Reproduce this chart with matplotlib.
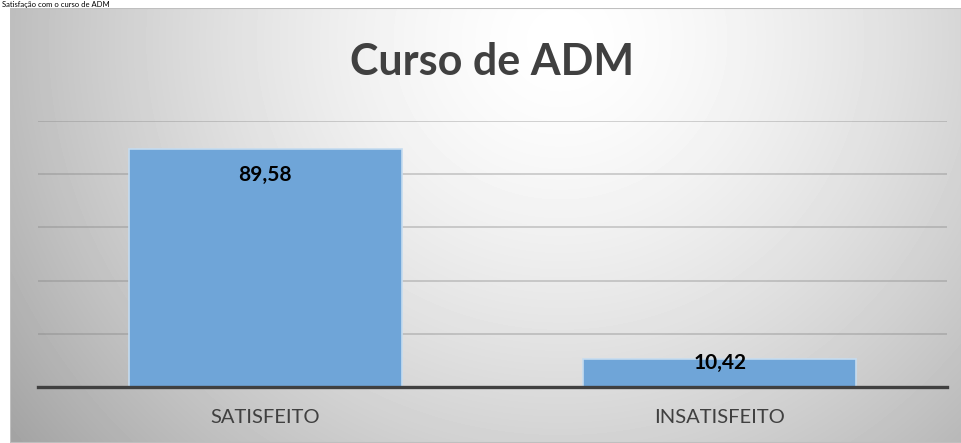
import numpy as np
import matplotlib.pyplot as plt
from matplotlib.patches import Rectangle

categorias = ['SATISFEITO', 'INSATISFEITO']
valores = [89.58, 10.42]
rotulos = ['89,58', '10,42']
titulo = 'Curso de ADM'
texto_topo = 'Satisfação com o curso de ADM'

W, H = 962, 443
fig = plt.figure(figsize=(W / 100, H / 100), dpi=100)
fig.patch.set_facecolor('white')

# texto de cima (no original aparece cortado pela moldura)
fig.text(2 / W, 1 - 0.5 / H, texto_topo, fontsize=5.5,
         family='Lato', color='black', ha='left', va='top')

# fundo com gradiente radial (area do grafico)
x0, y0 = 10, 8
bg = fig.add_axes([x0 / W, 0, (W - x0) / W, (H - y0) / H])
xx, yy = np.meshgrid(np.arange(x0, W), np.arange(y0, H))
d = np.hypot(xx - 560, (yy - 40) * 1.05)
g = 1 - 0.25 * np.clip(d / 540, 0, 1.3) ** 1.5
bg.imshow(g, cmap='gray', vmin=0, vmax=1, aspect='auto',
          extent=[0, 1, 0, 1], interpolation='bilinear')
bg.add_patch(Rectangle((0, 0), 1, 1, transform=bg.transAxes, fill=False,
                       edgecolor='#bfbfbf', lw=1.5))
bg.set_xlim(0, 1)
bg.set_ylim(0, 1)
bg.axis('off')

ax = fig.add_axes([38 / W, (H - 387) / H, (947 - 38) / W, (387 - 121) / H])
ax.patch.set_alpha(0)

x = np.arange(len(categorias))
ax.bar(x, valores, width=0.6, color='#6fa5d8', edgecolor='#c5dcf0',
       linewidth=1.2, zorder=2)

ax.set_xlim(-0.5, 1.5)
ax.set_ylim(0, 100)
ax.set_yticks([20, 40, 60, 80, 100])
ax.yaxis.grid(True, color='#7f7f7f', alpha=0.4, lw=1.2, zorder=0)
ax.set_axisbelow(True)
ax.tick_params(left=False, labelleft=False, bottom=False)
for s in ['top', 'right', 'left']:
    ax.spines[s].set_visible(False)
ax.spines['bottom'].set_color('#404040')
ax.spines['bottom'].set_linewidth(2.4)
ax.spines['bottom'].set_zorder(3)

ax.set_xticks(x)
ax.set_xticklabels(categorias, fontsize=14.5, family='Lato', color='#404040')
ax.tick_params(axis='x', pad=12)

# rotulos de dados
ax.text(x[0], valores[0] - 10, rotulos[0], ha='center', va='center',
        fontsize=15, fontweight='bold', family='Lato', color='black', zorder=4)
ax.text(x[1], valores[1] - 1.2, rotulos[1], ha='center', va='center',
        fontsize=15, fontweight='bold', family='Lato', color='black', zorder=4)

fig.text(492 / W, 1 - 62 / H, titulo, ha='center', va='center', fontsize=31,
         fontweight='bold', family='Lato', color='#404040')

fig.savefig('out.png', dpi=100)
